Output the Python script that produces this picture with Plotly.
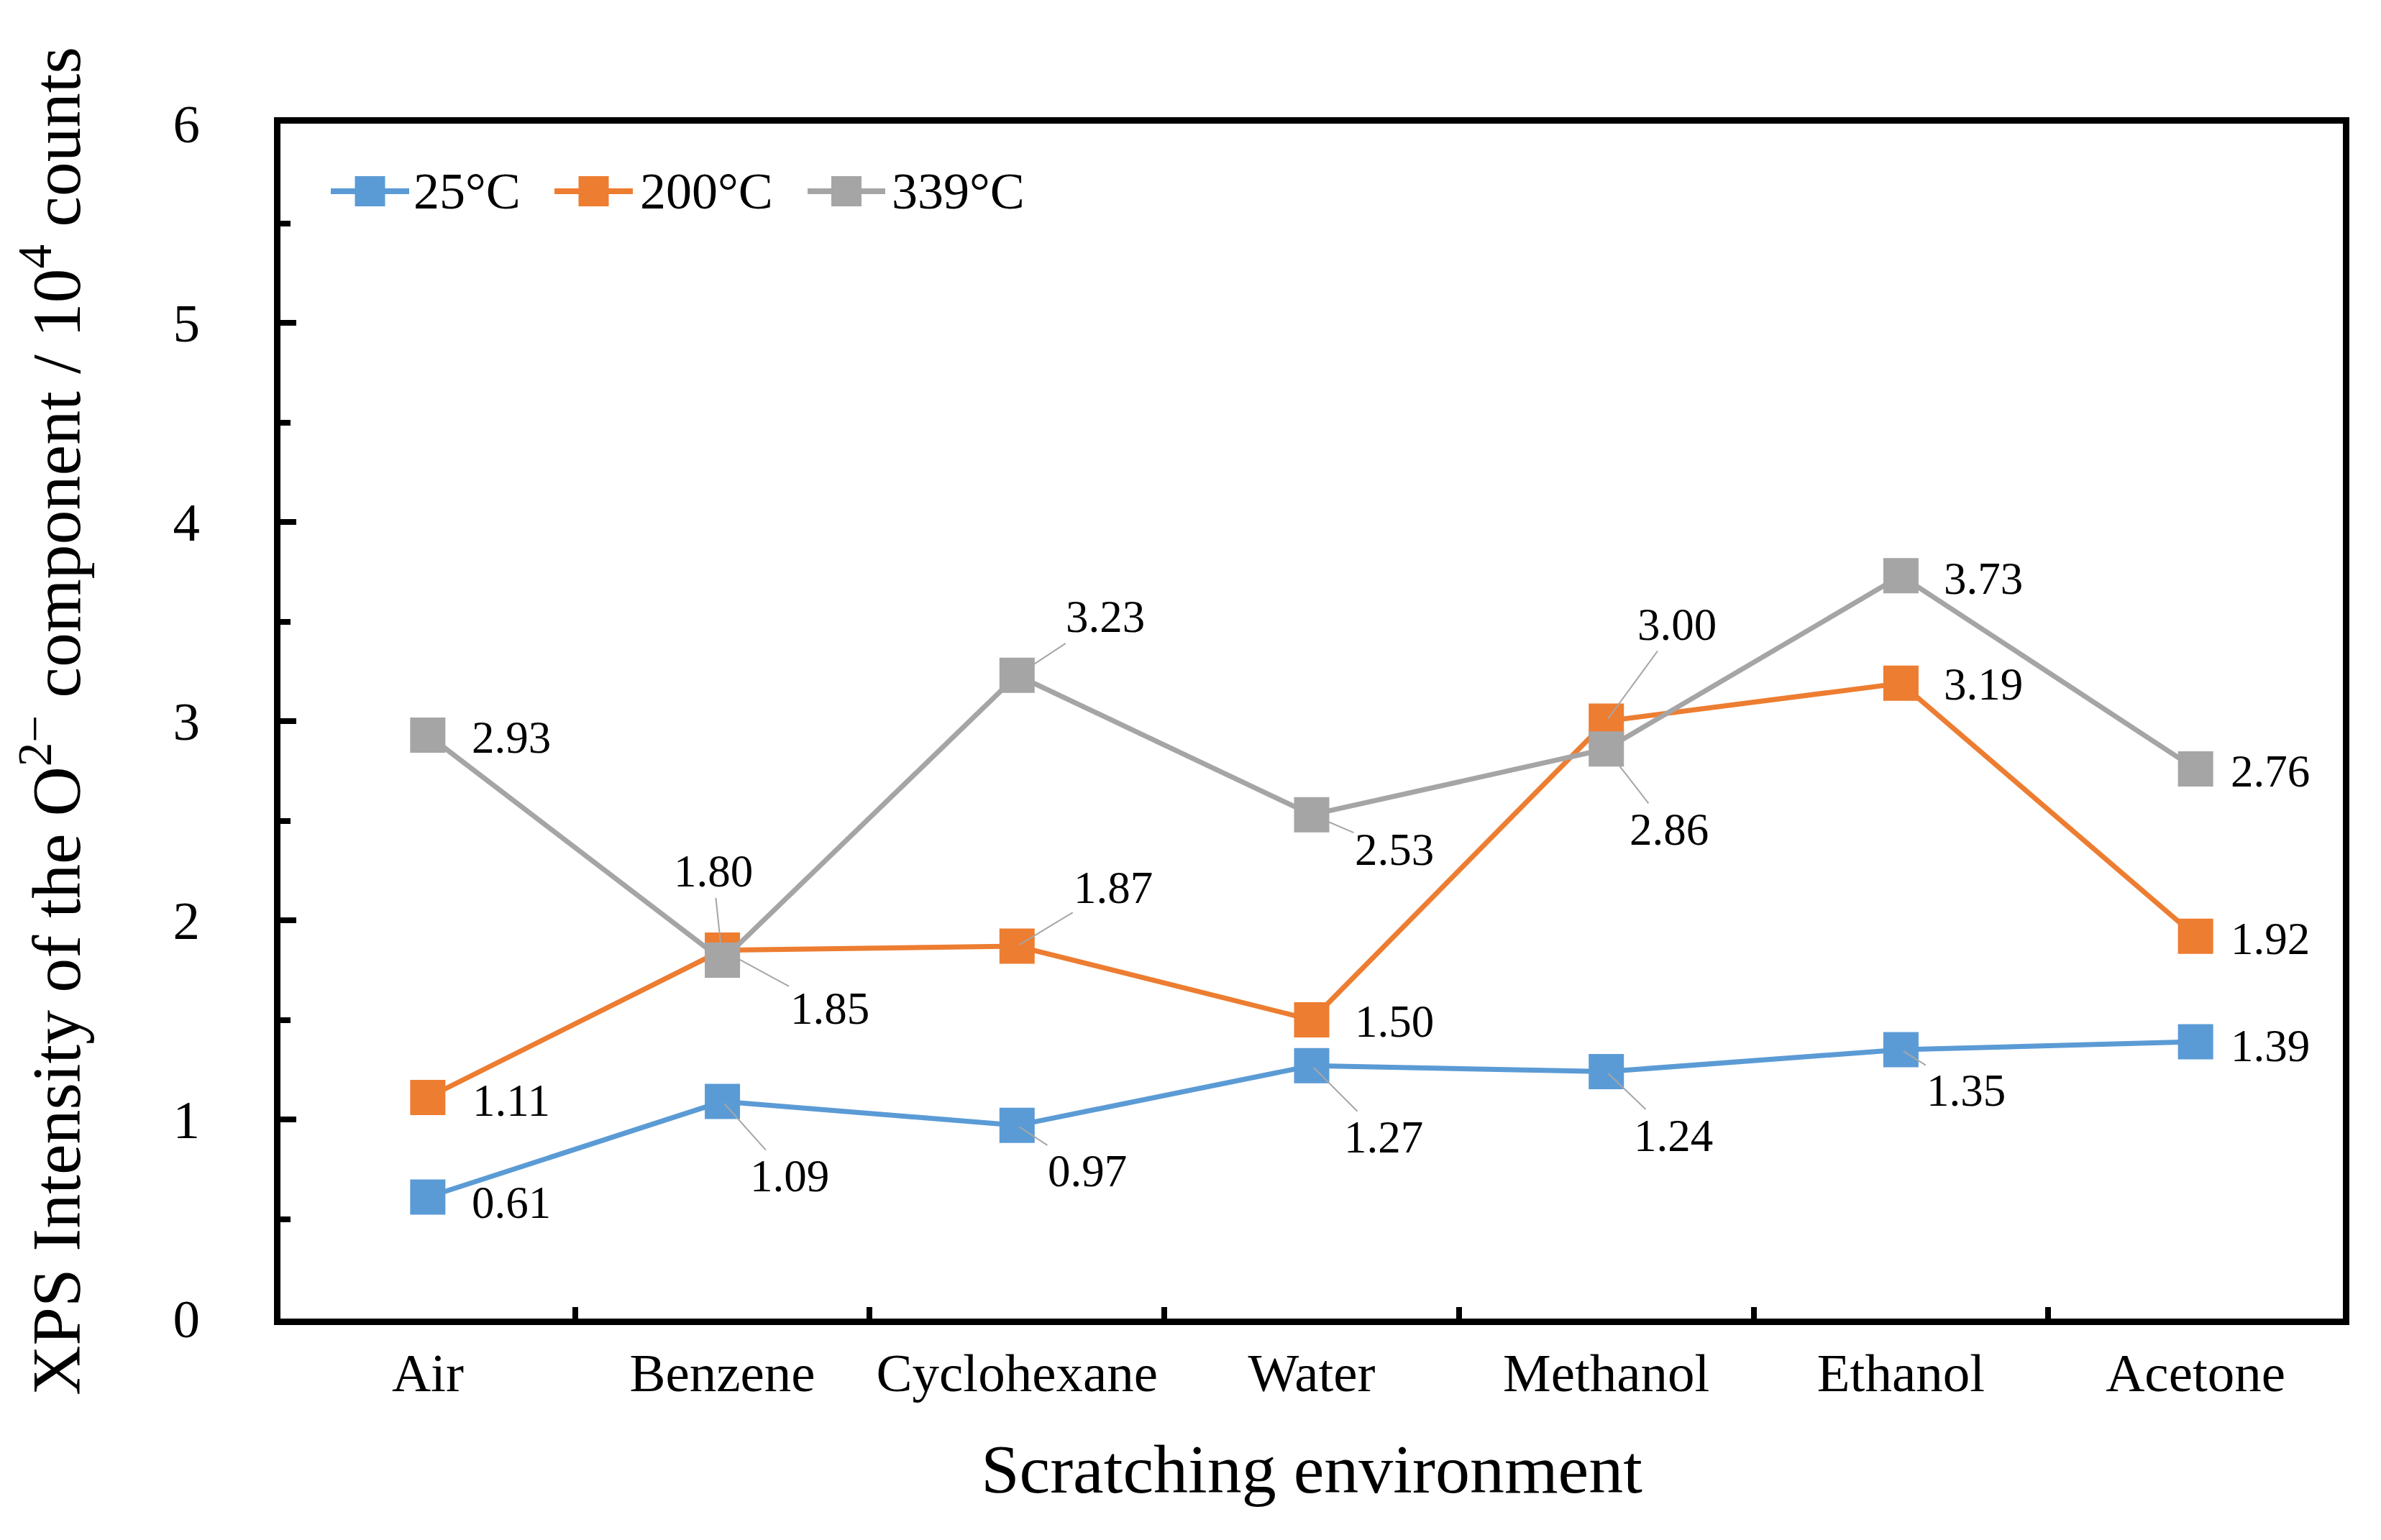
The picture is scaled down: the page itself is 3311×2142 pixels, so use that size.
import plotly.graph_objects as go

categories = ["Air", "Benzene", "Cyclohexane", "Water", "Methanol", "Ethanol", "Acetone"]
series_names = ["25°C", "200°C", "339°C"]
values_25 = [0.61, 1.09, 0.97, 1.27, 1.24, 1.35, 1.39]
values_200 = [1.11, 1.85, 1.87, 1.50, 3.00, 3.19, 1.92]
values_339 = [2.93, 1.80, 3.23, 2.53, 2.86, 3.73, 2.76]
y_ticks = [0, 1, 2, 3, 4, 5, 6]

colors = ["#5B9BD5", "#ED7D31", "#A5A5A5"]

# label offsets (pixels, dx right, dy down) and whether a leader line is drawn
offsets = [
    [(116, 8), (93, 104), (98, 64), (100, 100), (93, 89), (91, 57), (104, 6)],
    [(116, 4), (149, 81), (134, -81), (115, 2), (98, -134), (115, 2), (104, 4)],
    [(116, 4), (-13, -123), (123, -81), (115, 49), (87, 112), (115, 4), (104, 4)],
]
leaders = [
    [False, True, True, True, True, True, False],
    [False, True, True, False, True, False, False],
    [False, True, True, True, True, False, False],
]

all_values = [values_25, values_200, values_339]
FONT = "Liberation Serif, Times New Roman, serif"

# figure geometry (pixels)
W, H = 3311, 2142
ML, MR, MT, MB = 382, 61, 164, 316
PW = W - ML - MR
PH = H - MT - MB

fig = go.Figure()
for name, vals, col in zip(series_names, all_values, colors):
    fig.add_trace(go.Scatter(
        x=categories, y=vals, name=name, mode="lines+markers",
        line=dict(color=col, width=7),
        marker=dict(symbol="square", size=49, color=col, line=dict(width=0)),
        showlegend=False,
    ))

annotations = []
for vals, offs, leads in zip(all_values, offsets, leaders):
    for cat, v, (dx, dy), lead in zip(categories, vals, offs, leads):
        txt = f"{v:.2f}"
        if lead:
            annotations.append(dict(
                x=cat, y=v, xref="x", yref="y", text=txt,
                showarrow=True, arrowhead=0, arrowwidth=2, arrowcolor="#A6A6A6",
                ax=dx, ay=dy, standoff=4,
                font=dict(family=FONT, size=63, color="black"),
            ))
        else:
            annotations.append(dict(
                x=cat, y=v, xref="x", yref="y", text=txt,
                showarrow=False, xanchor="center", yanchor="middle",
                xshift=dx, yshift=-dy,
                font=dict(family=FONT, size=63, color="black"),
            ))

# custom legend (line + big square marker + text), positions in pixels
leg_y = 258
leg_line = [(452, 561), (763, 872), (1115, 1223)]
leg_text_x = [565, 880, 1230]
shapes = []
def px2paper_x(p):
    return (p - ML) / PW
def px2paper_y(p):
    return (H - MB - p) / PH
for name, col, (x0, x1), tx in zip(series_names, colors, leg_line, leg_text_x):
    yp = px2paper_y(leg_y)
    shapes.append(dict(type="line", xref="paper", yref="paper",
                       x0=px2paper_x(x0), x1=px2paper_x(x1), y0=yp, y1=yp,
                       line=dict(color=col, width=8)))
    xc = px2paper_x((x0 + x1) / 2)
    shapes.append(dict(type="rect", xref="paper", yref="paper",
                       xsizemode="pixel", ysizemode="pixel",
                       xanchor=xc, yanchor=yp, x0=-21, x1=21, y0=-21, y1=21,
                       fillcolor=col, line=dict(width=0)))
    annotations.append(dict(x=px2paper_x(tx), y=yp, xref="paper", yref="paper",
                            text=name, showarrow=False, xanchor="left", yanchor="middle",
                            font=dict(family=FONT, size=72, color="black")))

fig.update_layout(
    width=W, height=H,
    paper_bgcolor="white", plot_bgcolor="white",
    margin=dict(l=ML, r=MR, t=MT, b=MB, autoexpand=False),
    font=dict(family=FONT, size=75, color="black"),
    showlegend=False,
    annotations=annotations,
    shapes=shapes,
)

fig.update_xaxes(
    type="category", range=[-0.5, 6.5],
    showline=True, linecolor="black", linewidth=9, mirror=True,
    ticks="inside", tickson="boundaries", ticklen=16, tickwidth=8, tickcolor="black",
    showgrid=False, zeroline=False,
    tickfont=dict(family=FONT, size=75, color="black"),
    ticklabelstandoff=2,
    title=dict(text="Scratching environment", font=dict(family=FONT, size=96, color="black"), standoff=62),
    automargin=False,
)
fig.update_yaxes(
    range=[0, 6], tickvals=y_ticks, ticktext=[str(t) for t in y_ticks],
    showline=True, linecolor="black", linewidth=9, mirror=True,
    ticks="inside", ticklen=22, tickwidth=8, tickcolor="black",
    minor=dict(dtick=0.5, ticks="inside", ticklen=14, tickwidth=8, tickcolor="black", showgrid=False),
    showgrid=False, zeroline=False,
    tickfont=dict(family=FONT, size=75, color="black"),
    ticklabelstandoff=88,
    title=dict(text="XPS Intensity of the O<sup>2−</sup> component / 10<sup>4</sup> counts",
               font=dict(family=FONT, size=96, color="black"), standoff=100),
    automargin=False,
)

fig.write_html("out.html")
